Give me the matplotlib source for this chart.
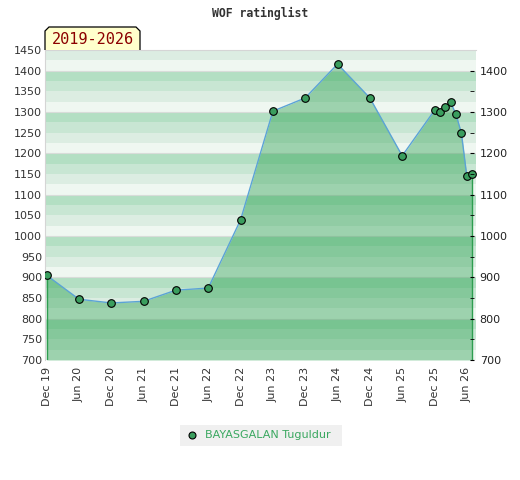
import numpy as np
import matplotlib
matplotlib.use('Agg')
import matplotlib.pyplot as plt
from matplotlib.patches import Polygon, Rectangle

# rating history, months counted from Dec 2019
months = [0, 6, 12, 18, 24, 30, 36, 42, 48, 54, 60, 66, 72, 73, 74, 75, 76, 77, 78, 79]
ratings = [905, 847, 838, 842, 869, 874, 1039, 1302, 1334, 1416, 1334, 1194,
           1304, 1299, 1311, 1323, 1294, 1248, 1144, 1149]
player = 'BAYASGALAN Tuguldur'
tick_months = list(range(0, 79, 6))
tick_labels = ['Dec 19', 'Jun 20', 'Dec 20', 'Jun 21', 'Dec 21', 'Jun 22', 'Dec 22',
               'Jun 23', 'Dec 23', 'Jun 24', 'Dec 24', 'Jun 25', 'Dec 25', 'Jun 26']
left_ticks = list(range(700, 1451, 50))
right_ticks = list(range(700, 1401, 100))

fig = plt.figure(figsize=(5.2, 4.8), dpi=100)
ax = fig.add_axes([45/520, 1 - 360/480, 431/520, 310/480])

# striped background, 4 stripes per 100 points
stripe_cols = ['#b3dfc3', '#c8e6d3', '#dcede2', '#eff7f1']
for top in range(1500, 700, -100):
    for k in range(4):
        hi = top - 25 * k
        lo = hi - 25
        if lo >= 1450 or hi <= 700:
            continue
        ax.axhspan(max(lo, 700), min(hi, 1450), color=stripe_cols[k], lw=0, zorder=0)
for v in range(800, 1450, 100):
    ax.axhline(v, color='#d8dcd9', lw=0.8, zorder=0.5)

ax.fill_between(months, ratings, 700, color='#189841', alpha=0.38, lw=0, zorder=1)
ax.plot([months[0], months[0]], [700, ratings[0]], color='#2e9e50', lw=1, zorder=2)
ax.plot([months[-1], months[-1]], [700, ratings[-1]], color='#2e9e50', lw=1, zorder=2)
ax.plot(months, ratings, color='#5ba3d6', lw=1, zorder=3)
ax.plot(months, ratings, 'o', ms=5.5, mfc='#3a9e5e', mec='black', mew=0.8, zorder=4)

ax.set_xlim(-0.3, 79.7)
ax.set_ylim(700, 1450)
ax.set_xticks(tick_months)
ax.set_xticklabels(tick_labels, rotation=90, fontsize=8, color='#333333')
ax.set_yticks(left_ticks)
ax.tick_params(axis='y', length=0, labelsize=8, labelcolor='#333333', pad=2)
ax.tick_params(axis='x', length=0, pad=5)
for s in ['left', 'top']:
    ax.spines[s].set_color('#d5d5d5')
ax.spines['right'].set_visible(False)
ax.spines['bottom'].set_visible(False)

# right axis sits on the last data point
ax2 = fig.add_axes([45/520, 1 - 360/480, 427/520, 310/480], frameon=False)
ax2.patch.set_visible(False)
ax2.set_xticks([])
ax2.yaxis.tick_right()
ax2.set_ylim(700, 1450)
ax2.set_yticks(right_ticks)
ax2.set_yticks(range(750, 1401, 100), minor=True)
ax2.tick_params(axis='y', which='both', length=3, direction='inout', labelsize=8,
                labelcolor='#222222', pad=4)

fig.text(0.5, 1 - 13/480, 'WOF ratinglist', ha='center', va='center',
         family='DejaVu Sans Mono', fontsize=8.3, fontweight='bold', color='#333333')

# period badge
bx0, bx1, by0, by1 = 45, 140, 50, 27
pts = [(bx0, by0), (bx0, by1 + 4), (bx0 + 4, by1), (bx1 - 4, by1), (bx1, by1 + 4), (bx1, by0)]
pts = [(x / 520, 1 - y / 480) for x, y in pts]
fig.patches.append(Polygon(pts, closed=False, transform=fig.transFigure,
                           fc='#ffffcc', ec='black', lw=0.9, zorder=5))
fig.text(93/520, 1 - 39/480, '2019-2026', ha='center', va='center',
         family='DejaVu Sans Mono', fontsize=11, color='#8b0000', zorder=6)

# legend
fig.patches.append(Rectangle((180/520, 1 - 446/480), 162/520, 21/480,
                             transform=fig.transFigure, fc='#f0f0f0', ec='none'))
fig.lines.append(plt.Line2D([192/520], [1 - 435/480], marker='o', ms=5, mfc='#3a9e5e',
                            mec='black', mew=0.8, transform=fig.transFigure))
fig.text(205/520, 1 - 435/480, player, ha='left', va='center', fontsize=8,
         color='#3aa860')

fig.savefig('out.png', dpi=100)
